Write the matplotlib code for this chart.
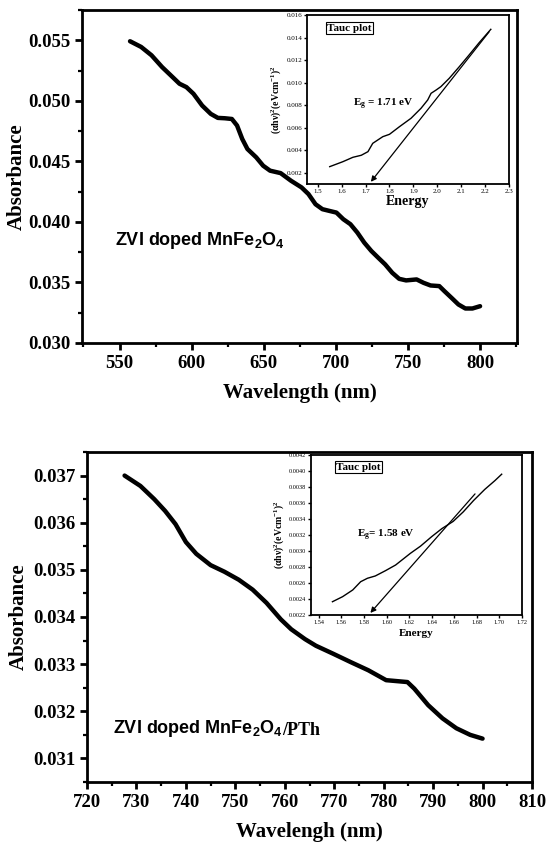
import numpy as np
import matplotlib.pyplot as plt
from matplotlib.ticker import MultipleLocator, FormatStrFormatter

plt.rcParams['mathtext.default'] = 'regular'

SERIF = 'Liberation Serif'
SANS = 'Liberation Sans'

# ---- top panel: ZVI doped MnFe2O4 ----
top_wl = [557.3, 565, 572.2, 579.5, 586.8, 591.6, 596.4, 601.3, 607.3, 613.3,
          618.2, 623, 627.9, 631.5, 635.1, 638.7, 644.8, 649.6, 654.4, 661.7,
          668.9, 676.2, 681, 685.9, 690.7, 695.5, 700.4, 705.2, 710.1, 714.9,
          719.7, 724.6, 729.4, 734.2, 739.1, 743.9, 748.7, 756, 760.8, 765.7,
          771.7, 775.3, 780.2, 785, 789.8, 794.7, 800]
top_abs = [0.05492, 0.05445, 0.05376, 0.05279, 0.05196, 0.05141, 0.05113, 0.05058, 0.04961, 0.04892,
           0.04859, 0.04856, 0.0485, 0.04796, 0.04685, 0.04602, 0.04533, 0.04464, 0.04423, 0.04403,
           0.0434, 0.04285, 0.0423, 0.04146, 0.04105, 0.04091, 0.04077, 0.04022, 0.03981, 0.03912,
           0.03829, 0.0376, 0.03704, 0.03649, 0.0358, 0.0353, 0.03517, 0.03525, 0.03497, 0.03475,
           0.0347, 0.03428, 0.03373, 0.03318, 0.03285, 0.03285, 0.03304]
top_energy = [1.55, 1.605, 1.647, 1.682, 1.71, 1.73, 1.772, 1.8, 1.842, 1.89,
              1.932, 1.96, 1.974, 1.995, 2.015, 2.05, 2.092, 2.133, 2.175, 2.224]
top_tauc = [0.00254, 0.00298, 0.00337, 0.00355, 0.00387, 0.00461, 0.0052, 0.00541, 0.00609, 0.00683,
            0.00772, 0.00846, 0.00905, 0.00934, 0.00964, 0.01038, 0.01141, 0.01245, 0.01354, 0.01473]
top_fit_e = [1.715, 2.224]
top_fit_y = [0.001, 0.0147]
top_eg = 1.71

# ---- bottom panel: ZVI doped MnFe2O4/PTh ----
bot_wl = [727.6, 730.8, 733.6, 735.8, 737.9, 740, 742.1, 745, 747.8, 750.7,
          753.5, 756.3, 759.2, 761.3, 764.1, 766.3, 769.8, 773.4, 776.9, 780.5,
          784.8, 786.2, 789, 791.9, 794.7, 797.5, 800]
bot_abs = [0.0370, 0.03678, 0.0365, 0.03625, 0.03597, 0.03559, 0.03534, 0.0351, 0.03496, 0.03479,
           0.03458, 0.0343, 0.03395, 0.03374, 0.03353, 0.03339, 0.03322, 0.03304, 0.03287, 0.03266,
           0.03262, 0.03248, 0.03213, 0.03185, 0.03164, 0.0315, 0.03142]
bot_energy = [1.552, 1.561, 1.570, 1.577, 1.583, 1.590, 1.599, 1.608, 1.621, 1.630,
              1.640, 1.649, 1.659, 1.668, 1.677, 1.687, 1.696, 1.702]
bot_tauc = [0.002366, 0.002429, 0.002513, 0.002616, 0.002659, 0.002688, 0.002754, 0.002825, 0.00297, 0.00306,
            0.00318, 0.00328, 0.00337, 0.00349, 0.00363, 0.00377, 0.00388, 0.00396]
bot_fit_e = [1.584, 1.68]
bot_fit_y = [0.0022, 0.00374]
bot_eg = 1.58

W, H = 550, 844


def rect(l, t, r, b):
    return [l / W, 1 - b / H, (r - l) / W, (b - t) / H]


def style_main(ax, xmaj, ymaj, yfmt):
    for s in ax.spines.values():
        s.set_linewidth(2.0)
    ax.xaxis.set_major_locator(MultipleLocator(xmaj))
    ax.xaxis.set_minor_locator(MultipleLocator(xmaj / 2))
    ax.yaxis.set_major_locator(MultipleLocator(ymaj))
    ax.yaxis.set_minor_locator(MultipleLocator(ymaj / 2))
    ax.yaxis.set_major_formatter(FormatStrFormatter(yfmt))
    ax.tick_params(which='major', direction='out', length=5, width=2)
    ax.tick_params(which='minor', direction='out', length=3, width=1.6)
    ax.tick_params(top=False, right=False, which='both')
    for lab in ax.get_xticklabels() + ax.get_yticklabels():
        lab.set_fontfamily(SERIF)
        lab.set_fontweight('bold')
        lab.set_fontsize(13.5)


def style_inset(ax, xmaj, ymaj, xfmt, yfmt, fs):
    for s in ax.spines.values():
        s.set_linewidth(1.3)
    ax.xaxis.set_major_locator(MultipleLocator(xmaj))
    ax.yaxis.set_major_locator(MultipleLocator(ymaj))
    ax.xaxis.set_major_formatter(FormatStrFormatter(xfmt))
    ax.yaxis.set_major_formatter(FormatStrFormatter(yfmt))
    ax.tick_params(direction='out', length=2, width=1, pad=1.5, labelsize=fs)
    for lab in ax.get_xticklabels() + ax.get_yticklabels():
        lab.set_fontfamily(SERIF)


fig = plt.figure(figsize=(5.5, 8.44), dpi=100)

# top main
ax1 = fig.add_axes(rect(82, 10, 517, 343))
ax1.plot(top_wl, top_abs, color='black', lw=3.2, solid_capstyle='round')
ax1.set_xlim(524, 825.6)
ax1.set_ylim(0.030, 0.0575)
style_main(ax1, 50, 0.005, '%.3f')
ax1.set_xlabel('Wavelength (nm)', fontfamily=SERIF, fontweight='bold', fontsize=15, labelpad=8)
ax1.set_ylabel('Absorbance', fontfamily=SERIF, fontweight='bold', fontsize=15, labelpad=1)
ax1.text(0.076, 0.309, 'ZVI doped MnFe$_2$O$_4$', transform=ax1.transAxes,
         fontfamily=SANS, fontweight='bold', fontsize=13, va='center', ha='left')

ins1 = fig.add_axes(rect(307, 15, 509, 184))
ins1.plot(top_energy, top_tauc, color='black', lw=1.0)
ins1.annotate('', xy=(top_fit_e[0], top_fit_y[0]), xytext=(top_fit_e[1], top_fit_y[1]),
              arrowprops=dict(arrowstyle='-|>', color='black', lw=0.9, mutation_scale=8))
ins1.set_xlim(1.455, 2.3)
ins1.set_ylim(0.001, 0.016)
style_inset(ins1, 0.1, 0.002, '%.1f', '%.3f', 5)
ins1.set_xlabel('Energy', fontfamily=SERIF, fontweight='bold', fontsize=10, labelpad=1)
ins1.set_ylabel('(\u03b1h\u03bd)$^2$(eVcm$^{-1}$)$^2$', fontfamily=SERIF, fontweight='bold',
                fontsize=7, labelpad=2)
ins1.text(0.10, 0.923, 'Tauc plot', transform=ins1.transAxes, fontfamily=SERIF, fontsize=8,
          fontweight='bold', va='center', ha='left',
          bbox=dict(boxstyle='square,pad=0.12', fc='white', ec='black', lw=0.8))
ins1.text(0.376, 0.473, 'E$_g$ = %.2f eV' % top_eg, transform=ins1.transAxes, fontfamily=SERIF,
          fontsize=8, fontweight='bold', va='center', ha='center')

# bottom main
ax2 = fig.add_axes(rect(87, 452, 532, 782))
ax2.plot(bot_wl, bot_abs, color='black', lw=3.2, solid_capstyle='round')
ax2.set_xlim(720, 810)
ax2.set_ylim(0.0305, 0.0375)
style_main(ax2, 10, 0.001, '%.3f')
ax2.set_xlabel('Wavelengh (nm)', fontfamily=SERIF, fontweight='bold', fontsize=15, labelpad=8)
ax2.set_ylabel('Absorbance', fontfamily=SERIF, fontweight='bold', fontsize=15, labelpad=3)
t2 = ax2.text(0.058, 0.148, 'ZVI doped MnFe$_2$O$_4$', transform=ax2.transAxes,
              fontfamily=SANS, fontweight='bold', fontsize=13, va='baseline', ha='left')
ax2.annotate('/PTh', xy=(1, 0), xycoords=t2, va='bottom', ha='left',
             fontfamily=SERIF, fontweight='bold', fontsize=13)

ins2 = fig.add_axes(rect(311, 455, 522, 615))
ins2.plot(bot_energy, bot_tauc, color='black', lw=1.0)
ins2.annotate('', xy=(bot_fit_e[0], bot_fit_y[0]), xytext=(bot_fit_e[1], bot_fit_y[1]),
              arrowprops=dict(arrowstyle='-|>', color='black', lw=0.9, mutation_scale=8))
ins2.set_xlim(1.533, 1.72)
ins2.set_ylim(0.0022, 0.0042)
style_inset(ins2, 0.02, 0.0002, '%.2f', '%.4f', 4.5)
ins2.set_xlabel('Energy', fontfamily=SERIF, fontweight='bold', fontsize=8, labelpad=3)
ins2.set_ylabel('(\u03b1h\u03bd)$^2$(eVcm$^{-1}$)$^2$', fontfamily=SERIF, fontweight='bold',
                fontsize=7, labelpad=2)
ins2.text(0.118, 0.925, 'Tauc plot', transform=ins2.transAxes, fontfamily=SERIF, fontsize=8,
          fontweight='bold', va='center', ha='left',
          bbox=dict(boxstyle='square,pad=0.12', fc='white', ec='black', lw=0.8))
ins2.text(0.355, 0.496, 'E$_g$= %.2f eV' % bot_eg, transform=ins2.transAxes, fontfamily=SERIF,
          fontsize=8, fontweight='bold', va='center', ha='center')

fig.savefig('out.png', dpi=100)
